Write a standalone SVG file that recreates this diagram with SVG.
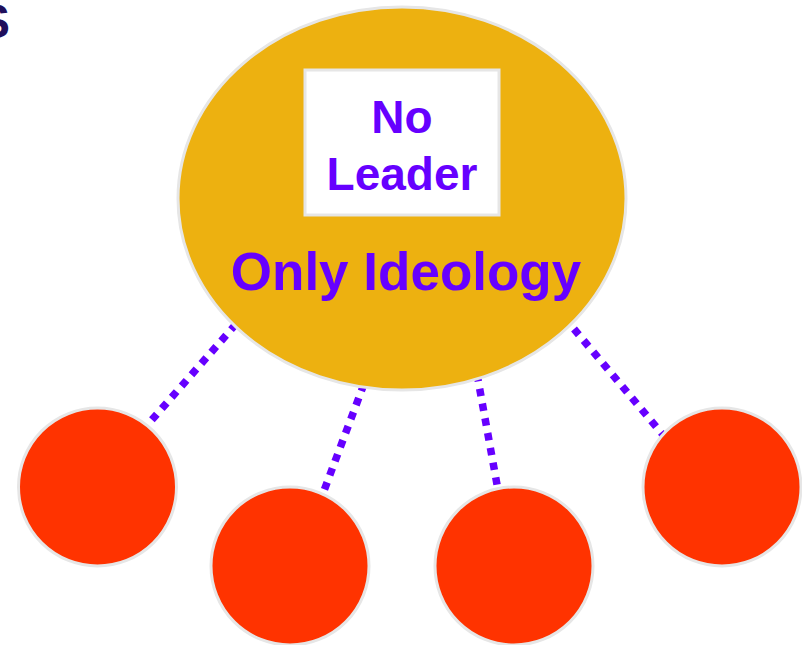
<svg xmlns="http://www.w3.org/2000/svg" width="802" height="645" viewBox="0 0 802 645">
<style>
.conn{stroke:#6600FF;stroke-width:7.5;stroke-dasharray:7.5 7.5;fill:none}
.member{fill:#FF3300;stroke:#E6E6E6;stroke-width:3}
.lbl{font-family:"Liberation Sans",Arial,sans-serif;font-weight:bold;fill:#6600FF;text-anchor:middle}
</style>
<rect width="802" height="645" fill="#FFFFFF"/>
<text x="-22" y="38" font-family="Liberation Sans, Arial, sans-serif" font-weight="bold" font-size="48" fill="#1F0F5C">S</text>
<g id="connectors">
<line class="conn" x1="236" y1="324" x2="150" y2="422"/>
<line class="conn" x1="364" y1="384" x2="322" y2="496"/>
<line class="conn" x1="477" y1="374" x2="498" y2="490"/>
<line class="conn" x1="574" y1="329" x2="664" y2="436"/>
</g>
<g id="hub">
<ellipse cx="402" cy="198.5" rx="224" ry="191.5" fill="#EDB110" stroke="#E6E6E6" stroke-width="3"/>
<rect x="305" y="70" width="194" height="145" fill="#FFFFFF" stroke="#E6E6E6" stroke-width="3"/>
<text class="lbl" x="402" y="133" font-size="46">No</text>
<text class="lbl" x="402" y="190" font-size="46">Leader</text>
<text class="lbl" x="406" y="290" font-size="53">Only Ideology</text>
</g>
<g id="member1"><circle class="member" cx="97.5" cy="487" r="79"/></g>
<g id="member2"><circle class="member" cx="290" cy="566" r="79"/></g>
<g id="member3"><circle class="member" cx="514" cy="566" r="79"/></g>
<g id="member4"><circle class="member" cx="722" cy="487" r="79"/></g>
</svg>
